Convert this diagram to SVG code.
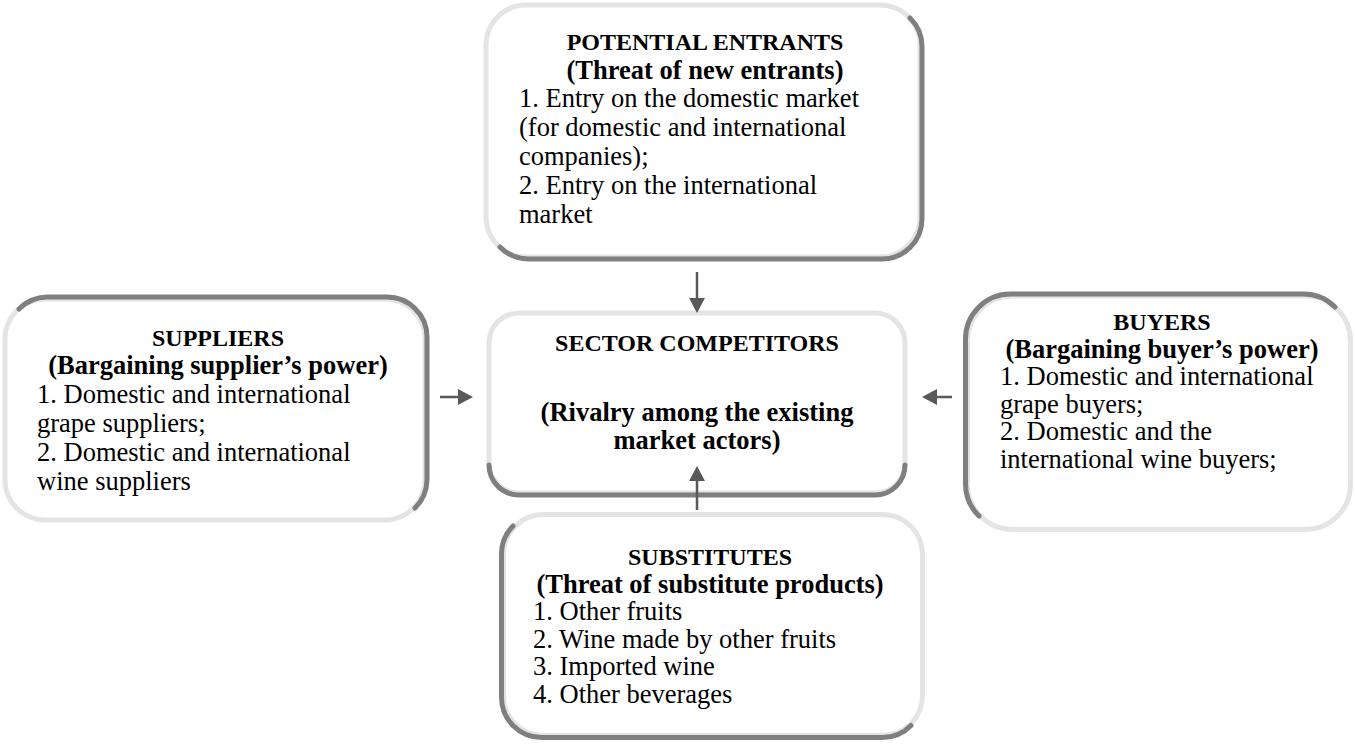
<svg xmlns="http://www.w3.org/2000/svg" width="1355" height="746" viewBox="0 0 1355 746">
<defs>
<style>
.box{fill:#ffffff;stroke:#e4e4e4;stroke-width:5}
.shadow{fill:none;stroke:#7f7f7f;stroke-width:5;stroke-linecap:round}
.cap{font-family:"Liberation Serif","Times New Roman",serif;font-weight:bold;font-size:24px;fill:#000;text-anchor:middle}
.sub{font-family:"Liberation Serif","Times New Roman",serif;font-weight:bold;font-size:26.5px;fill:#000;text-anchor:middle}
.body{font-family:"Liberation Serif","Times New Roman",serif;font-size:26.5px;fill:#000}
.conn{stroke:#595959;stroke-width:2.5;fill:none}
</style>
<marker id="ah" markerUnits="userSpaceOnUse" markerWidth="16" markerHeight="16" refX="2" refY="8" orient="auto">
<path d="M0,0 L15,8 L0,16 z" fill="#595959"/>
</marker>
</defs>
<rect width="1355" height="746" fill="#ffffff"/>

<g id="potential-entrants">
<rect class="box" x="486" y="5" width="434" height="252" rx="40" ry="40"/>
<path class="shadow" d="M910,18 A40,40 0 0 1 922,47 L922,219 A40,40 0 0 1 882,259 L528,259 A40,40 0 0 1 500,247"/>
<text class="cap" x="705" y="50">POTENTIAL ENTRANTS</text>
<text class="sub" x="705" y="78.5">(Threat of new entrants)</text>
<text class="body" x="519" y="107">1. Entry on the domestic market</text>
<text class="body" x="519" y="136">(for domestic and international</text>
<text class="body" x="519" y="165">companies);</text>
<text class="body" x="519" y="194">2. Entry on the international</text>
<text class="body" x="519" y="223">market</text>
</g>

<g id="suppliers">
<rect class="box" x="5" y="299" width="420" height="221" rx="40" ry="40"/>
<path class="shadow" d="M19,309 A40,40 0 0 1 47,297 L387,297 A40,40 0 0 1 427,337 L427,480 A40,40 0 0 1 415,508"/>
<text class="cap" x="218" y="346">SUPPLIERS</text>
<text class="sub" x="218" y="374">(Bargaining supplier’s power)</text>
<text class="body" x="37" y="403">1. Domestic and international</text>
<text class="body" x="37" y="432">grape suppliers;</text>
<text class="body" x="37" y="461">2. Domestic and international</text>
<text class="body" x="37" y="490">wine suppliers</text>
</g>

<g id="sector-competitors">
<rect class="box" x="489" y="313" width="416" height="180" rx="30" ry="30"/>
<path class="shadow" d="M489,465 A30,30 0 0 0 519,495 L875,495 A30,30 0 0 0 905,465"/>
<text class="cap" x="697" y="351">SECTOR COMPETITORS</text>
<text class="sub" x="697" y="421">(Rivalry among the existing</text>
<text class="sub" x="697" y="449">market actors)</text>
</g>

<g id="buyers">
<rect class="box" x="967.5" y="296" width="383" height="233.5" rx="45" ry="45"/>
<path class="shadow" d="M979,516 A45,45 0 0 1 965.5,484 L965.5,339 A45,45 0 0 1 1010.5,294 L1303,294 A45,45 0 0 1 1335,307"/>
<text class="cap" x="1162" y="330">BUYERS</text>
<text class="sub" x="1162" y="357.5">(Bargaining buyer’s power)</text>
<text class="body" x="1000" y="385">1. Domestic and international</text>
<text class="body" x="1000" y="412.5">grape buyers;</text>
<text class="body" x="1000" y="440">2. Domestic and the</text>
<text class="body" x="1000" y="467.5">international wine buyers;</text>
</g>

<g id="substitutes">
<rect class="box" x="503.5" y="514.5" width="419" height="221" rx="40" ry="40"/>
<path class="shadow" d="M513,526 A40,40 0 0 0 501.5,554.5 L501.5,697.5 A40,40 0 0 0 541.5,737.5 L882.5,737.5 A40,40 0 0 0 911,725.5"/>
<text class="cap" x="710" y="565">SUBSTITUTES</text>
<text class="sub" x="710" y="592.5">(Threat of substitute products)</text>
<text class="body" x="533" y="620">1. Other fruits</text>
<text class="body" x="533" y="647.5">2. Wine made by other fruits</text>
<text class="body" x="533" y="675">3. Imported wine</text>
<text class="body" x="533" y="702.5">4. Other beverages</text>
</g>

<g id="connectors">
<line class="conn" x1="697" y1="272" x2="697" y2="300" marker-end="url(#ah)"/>
<line class="conn" x1="697" y1="510" x2="697" y2="479" marker-end="url(#ah)"/>
<line class="conn" x1="440" y1="397" x2="460" y2="397" marker-end="url(#ah)"/>
<line class="conn" x1="952" y1="397" x2="935" y2="397" marker-end="url(#ah)"/>
</g>
</svg>
